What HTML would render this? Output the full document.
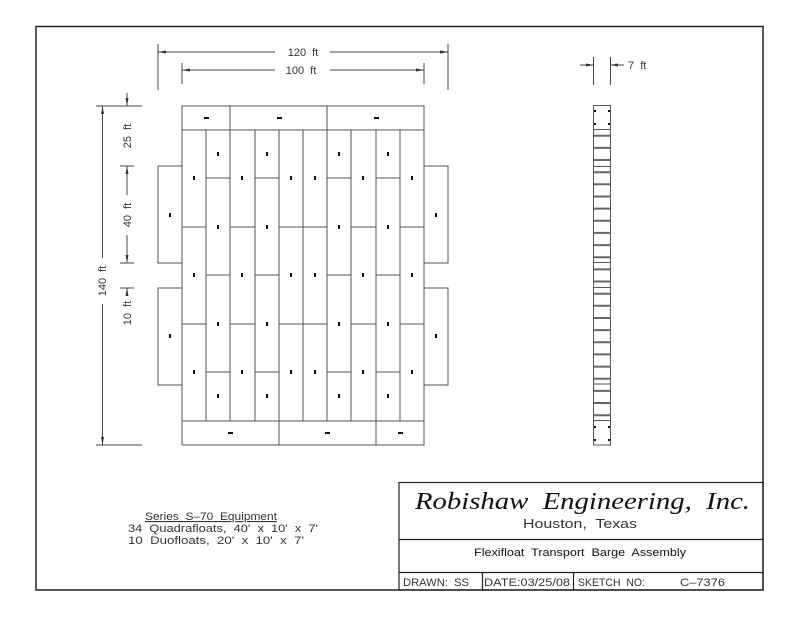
<!DOCTYPE html>
<html><head><meta charset="utf-8"><style>
html,body{margin:0;padding:0;background:#fff;}
svg{display:block;}
text{font-family:"Liberation Sans",sans-serif;fill:#333;white-space:pre;}
</style></head><body>
<svg width="800" height="618" viewBox="0 0 800 618" xmlns="http://www.w3.org/2000/svg" xml:space="preserve">
<rect x="0" y="0" width="800" height="618" fill="#fff"/>
<rect x="36" y="26.5" width="727" height="563.5" fill="none" stroke="#222" stroke-width="1.5"/>

<g stroke="#555" stroke-width="1" fill="none">
<rect x="182" y="106" width="242" height="339"/>
<line x1="182" y1="130" x2="424" y2="130"/>
<line x1="182" y1="421" x2="424" y2="421"/>
<line x1="230" y1="106" x2="230" y2="130"/>
<line x1="327" y1="106" x2="327" y2="130"/>
<line x1="279" y1="421" x2="279" y2="445"/>
<line x1="376" y1="421" x2="376" y2="445"/>
<line x1="206" y1="130" x2="206" y2="421"/>
<line x1="230" y1="130" x2="230" y2="421"/>
<line x1="255" y1="130" x2="255" y2="421"/>
<line x1="279" y1="130" x2="279" y2="421"/>
<line x1="303" y1="130" x2="303" y2="421"/>
<line x1="327" y1="130" x2="327" y2="421"/>
<line x1="351" y1="130" x2="351" y2="421"/>
<line x1="376" y1="130" x2="376" y2="421"/>
<line x1="400" y1="130" x2="400" y2="421"/>
<line x1="182" y1="227" x2="206" y2="227"/><line x1="182" y1="324" x2="206" y2="324"/>
<line x1="230" y1="227" x2="255" y2="227"/><line x1="230" y1="324" x2="255" y2="324"/>
<line x1="279" y1="227" x2="327" y2="227"/><line x1="279" y1="324" x2="327" y2="324"/>
<line x1="351" y1="227" x2="376" y2="227"/><line x1="351" y1="324" x2="376" y2="324"/>
<line x1="400" y1="227" x2="424" y2="227"/><line x1="400" y1="324" x2="424" y2="324"/>
<line x1="206" y1="178" x2="230" y2="178"/><line x1="206" y1="275" x2="230" y2="275"/><line x1="206" y1="372" x2="230" y2="372"/>
<line x1="255" y1="178" x2="279" y2="178"/><line x1="255" y1="275" x2="279" y2="275"/><line x1="255" y1="372" x2="279" y2="372"/>
<line x1="327" y1="178" x2="351" y2="178"/><line x1="327" y1="275" x2="351" y2="275"/><line x1="327" y1="372" x2="351" y2="372"/>
<line x1="376" y1="178" x2="400" y2="178"/><line x1="376" y1="275" x2="400" y2="275"/><line x1="376" y1="372" x2="400" y2="372"/>
<rect x="158" y="166" width="24" height="97"/>
<rect x="158" y="288" width="24" height="97"/>
<rect x="424" y="166" width="24" height="97"/>
<rect x="424" y="288" width="24" height="97"/>
</g>

<g fill="#111">
<rect x="204" y="117" width="5" height="2"/><rect x="277" y="117" width="5" height="2"/><rect x="374" y="117" width="5" height="2"/>
<rect x="228" y="432" width="5" height="2"/><rect x="325" y="432" width="5" height="2"/><rect x="398" y="432" width="5" height="2"/>
<rect x="169" y="213" width="2" height="4"/><rect x="169" y="334" width="2" height="4"/>
<rect x="435" y="213" width="2" height="4"/><rect x="435" y="334" width="2" height="4"/>
<rect x="193" y="176" width="2" height="4"/><rect x="193" y="273" width="2" height="4"/><rect x="193" y="370" width="2" height="4"/>
<rect x="241" y="176" width="2" height="4"/><rect x="241" y="273" width="2" height="4"/><rect x="241" y="370" width="2" height="4"/>
<rect x="290" y="176" width="2" height="4"/><rect x="290" y="273" width="2" height="4"/><rect x="290" y="370" width="2" height="4"/>
<rect x="314" y="176" width="2" height="4"/><rect x="314" y="273" width="2" height="4"/><rect x="314" y="370" width="2" height="4"/>
<rect x="362" y="176" width="2" height="4"/><rect x="362" y="273" width="2" height="4"/><rect x="362" y="370" width="2" height="4"/>
<rect x="411" y="176" width="2" height="4"/><rect x="411" y="273" width="2" height="4"/><rect x="411" y="370" width="2" height="4"/>
<rect x="217" y="152" width="2" height="4"/><rect x="217" y="225" width="2" height="4"/><rect x="217" y="322" width="2" height="4"/><rect x="217" y="394" width="2" height="4"/>
<rect x="266" y="152" width="2" height="4"/><rect x="266" y="225" width="2" height="4"/><rect x="266" y="322" width="2" height="4"/><rect x="266" y="394" width="2" height="4"/>
<rect x="338" y="152" width="2" height="4"/><rect x="338" y="225" width="2" height="4"/><rect x="338" y="322" width="2" height="4"/><rect x="338" y="394" width="2" height="4"/>
<rect x="387" y="152" width="2" height="4"/><rect x="387" y="225" width="2" height="4"/><rect x="387" y="322" width="2" height="4"/><rect x="387" y="394" width="2" height="4"/>
</g>

<g stroke="#444" stroke-width="1" fill="none">
<line x1="158" y1="44" x2="158" y2="90"/><line x1="448" y1="44" x2="448" y2="90"/>
<line x1="158" y1="52" x2="275" y2="52"/><line x1="330" y1="52" x2="448" y2="52"/>
<line x1="182" y1="63" x2="182" y2="84"/><line x1="424" y1="63" x2="424" y2="84"/>
<line x1="182" y1="70" x2="275" y2="70"/><line x1="330" y1="70" x2="424" y2="70"/>
<line x1="96" y1="106" x2="142" y2="106"/>
<line x1="96" y1="445" x2="142" y2="445"/>
<line x1="102.5" y1="106" x2="102.5" y2="258"/><line x1="102.5" y1="304" x2="102.5" y2="445"/>
<line x1="127" y1="93" x2="127" y2="106"/>
<line x1="120" y1="166" x2="134" y2="166"/>
<line x1="127" y1="166" x2="127" y2="195"/><line x1="127" y1="235" x2="127" y2="263"/>
<line x1="120" y1="263" x2="134" y2="263"/>
<line x1="120" y1="288" x2="134" y2="288"/>
<line x1="127" y1="288" x2="127" y2="296"/>
<line x1="593.5" y1="57" x2="593.5" y2="85"/><line x1="610.5" y1="57" x2="610.5" y2="85"/>
<line x1="580" y1="65" x2="593.5" y2="65"/><line x1="610.5" y1="65" x2="624" y2="65"/>
</g>
<g fill="#333">
<polygon points="158,52 166,50.5 166,53.5"/><polygon points="448,52 440,50.5 440,53.5"/>
<polygon points="182,70 190,68.5 190,71.5"/><polygon points="424,70 416,68.5 416,71.5"/>
<polygon points="102.5,106 101,114 104,114"/><polygon points="102.5,445 101,437 104,437"/>
<polygon points="127,106 125.5,98 128.5,98"/>
<polygon points="127,166 125.5,174 128.5,174"/><polygon points="127,263 125.5,255 128.5,255"/>
<polygon points="127,288 125.5,296 128.5,296"/>
<polygon points="593.5,65 586,63.5 586,66.5"/><polygon points="610.5,65 618,63.5 618,66.5"/>
</g>
<g font-size="11">
<text x="303" y="56" text-anchor="middle">120  ft</text>
<text x="301" y="74" text-anchor="middle">100  ft</text>
<text x="628" y="69">7  ft</text>
<text transform="translate(131,136) rotate(-90)" text-anchor="middle">25  ft</text>
<text transform="translate(131,215) rotate(-90)" text-anchor="middle">40  ft</text>
<text transform="translate(131,313) rotate(-90)" text-anchor="middle">10  ft</text>
<text transform="translate(106,281) rotate(-90)" text-anchor="middle">140  ft</text>
</g>

<g stroke="#555" fill="none">
<rect x="593.5" y="105.5" width="17" height="339.5" stroke-width="1"/>
<g stroke-width="1">
<line x1="593.5" y1="129.5" x2="610.5" y2="129.5"/><line x1="593.5" y1="166.5" x2="610.5" y2="166.5"/>
<line x1="593.5" y1="262.5" x2="610.5" y2="262.5"/><line x1="593.5" y1="287.5" x2="610.5" y2="287.5"/>
<line x1="593.5" y1="384" x2="610.5" y2="384"/><line x1="593.5" y1="420.5" x2="610.5" y2="420.5"/>
</g>
<g stroke-width="2" stroke="#666">
<line x1="593.5" y1="135.7" x2="610.5" y2="135.7"/><line x1="593.5" y1="147.9" x2="610.5" y2="147.9"/>
<line x1="593.5" y1="160" x2="610.5" y2="160"/><line x1="593.5" y1="172.2" x2="610.5" y2="172.2"/>
<line x1="593.5" y1="184.3" x2="610.5" y2="184.3"/><line x1="593.5" y1="196.5" x2="610.5" y2="196.5"/>
<line x1="593.5" y1="208.6" x2="610.5" y2="208.6"/><line x1="593.5" y1="220.8" x2="610.5" y2="220.8"/>
<line x1="593.5" y1="232.9" x2="610.5" y2="232.9"/><line x1="593.5" y1="245.1" x2="610.5" y2="245.1"/>
<line x1="593.5" y1="257.2" x2="610.5" y2="257.2"/><line x1="593.5" y1="269.4" x2="610.5" y2="269.4"/>
<line x1="593.5" y1="281.5" x2="610.5" y2="281.5"/><line x1="593.5" y1="293.7" x2="610.5" y2="293.7"/>
<line x1="593.5" y1="305.8" x2="610.5" y2="305.8"/><line x1="593.5" y1="318" x2="610.5" y2="318"/>
<line x1="593.5" y1="330.1" x2="610.5" y2="330.1"/><line x1="593.5" y1="342.3" x2="610.5" y2="342.3"/>
<line x1="593.5" y1="354.4" x2="610.5" y2="354.4"/><line x1="593.5" y1="366.6" x2="610.5" y2="366.6"/>
<line x1="593.5" y1="378.7" x2="610.5" y2="378.7"/><line x1="593.5" y1="390.9" x2="610.5" y2="390.9"/>
<line x1="593.5" y1="403" x2="610.5" y2="403"/><line x1="593.5" y1="415.2" x2="610.5" y2="415.2"/>
</g>
</g>
<g fill="#111">
<rect x="594" y="110" width="2" height="2"/><rect x="608" y="110" width="2" height="2"/>
<rect x="594" y="123" width="2" height="2"/><rect x="608" y="123" width="2" height="2"/>
<rect x="594" y="426" width="2" height="2"/><rect x="608" y="426" width="2" height="2"/>
<rect x="594" y="439" width="2" height="2"/><rect x="608" y="439" width="2" height="2"/>
</g>

<g font-size="11">
<text x="145" y="520" textLength="132" lengthAdjust="spacingAndGlyphs" text-decoration="underline">Series  S–70  Equipment</text>
<text x="128" y="532" textLength="190" lengthAdjust="spacingAndGlyphs">34  Quadrafloats,  40'  x  10'  x  7'</text>
<text x="128" y="544" textLength="176" lengthAdjust="spacingAndGlyphs">10  Duofloats,  20'  x  10'  x  7'</text>
</g>

<g stroke="#222" fill="none" stroke-width="1.2">
<rect x="399" y="482.5" width="364" height="107.5"/>
<line x1="399" y1="539.5" x2="763" y2="539.5"/>
<line x1="399" y1="572.5" x2="763" y2="572.5"/>
<line x1="482.5" y1="572.5" x2="482.5" y2="590"/>
<line x1="573.5" y1="572.5" x2="573.5" y2="590"/>
</g>
<text x="415" y="509" textLength="335" lengthAdjust="spacingAndGlyphs" font-style="italic" font-size="24" style="font-family:'Liberation Serif',serif;fill:#111">Robishaw  Engineering,  Inc.</text>
<text x="523" y="528" textLength="114" lengthAdjust="spacingAndGlyphs" font-size="13">Houston,  Texas</text>
<text x="474" y="556" textLength="212" lengthAdjust="spacingAndGlyphs" font-size="11" style="fill:#111">Flexifloat  Transport  Barge  Assembly</text>
<g font-size="11">
<text x="403" y="586" textLength="66" lengthAdjust="spacingAndGlyphs">DRAWN:  SS</text>
<text x="484" y="586" textLength="86" lengthAdjust="spacingAndGlyphs">DATE:03/25/08</text>
<text x="578" y="586" textLength="67" lengthAdjust="spacingAndGlyphs">SKETCH  NO:</text>
<text x="680" y="586" textLength="45" lengthAdjust="spacingAndGlyphs">C–7376</text>
</g>
</svg>
</body></html>
